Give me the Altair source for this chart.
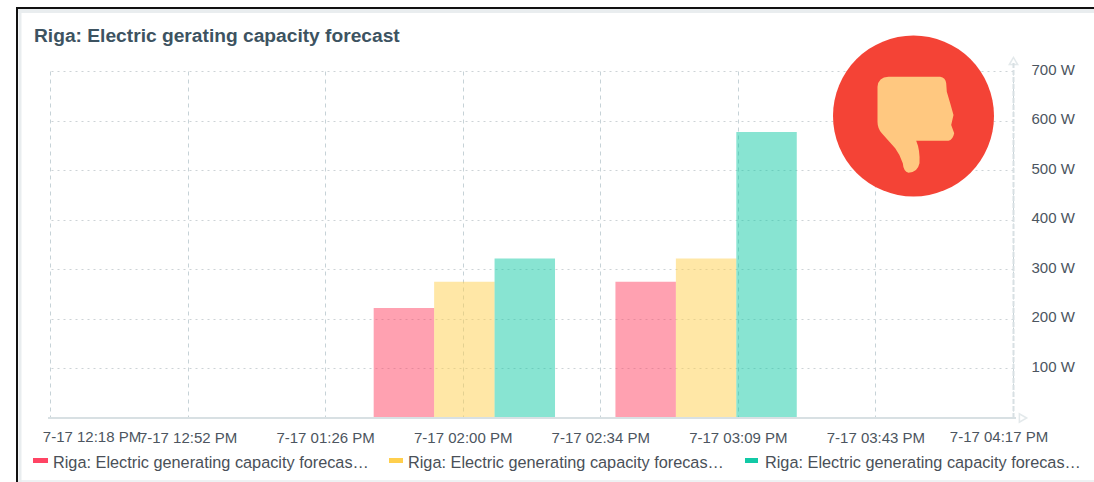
import altair as alt
import pandas as pd

DAY = "2023-07-17T"
bar_starts = ["13:38:40", "13:53:40", "14:08:40", "14:38:40", "14:53:40", "15:08:40"]
bar_ends = ["13:53:40", "14:08:40", "14:23:40", "14:53:40", "15:08:40", "15:23:40"]
bar_watts = [222, 275, 322, 275, 322, 577]
bar_series = ["a", "b", "c", "a", "b", "c"]
series_names = ["a", "b", "c"]
series_key = ["#ff4464", "#ffcf4d", "#12c9a6"]
legend_text = ["Riga: Electric generating capacity forecas\u2026"] * 3
tick_times = [
    "12:18:20", "12:52:29", "13:26:37", "14:00:46",
    "14:34:54", "15:09:03", "15:43:11", "16:17:20",
]
watt_ticks = [100, 200, 300, 400, 500, 600, 700]
title_text = "Riga: Electric gerating capacity forecast"

PLOT_W, PLOT_H = 963, 347
LEFT, TOP = 50, 71
FONT = "Liberation Sans"
GRID_V = "#c6d2d7"
GRID_H = "#cdd3d6"
AXIS_LINE = "#d8e0e3"
LABEL = "#4c5560"
TIME_FORMAT = "%-m-%-d %I:%M %p"

# Thumbs-down glyph, outlined in pixels around the middle of the badge.
THUMB = (
    "M-25,-39.3 L26.7,-39.3 Q32,-38.7 32.7,-32.7 L33.3,-24.3 L36.7,-12.7 L40,-1 "
    "L37.7,9 L40.7,17.3 Q39.3,24 35,24.7 L2.7,24.7 Q6.7,34 6,47.3 Q4,56.7 -5,56.7 "
    "Q-10,55.7 -10.7,47.3 Q-13.3,39 -18.3,32.3 L-31.7,17.3 Q-36,12.3 -36,5.7 "
    "L-36,-29.3 Q-35.3,-38.7 -25,-39.3 Z"
)

bars = pd.DataFrame({
    "start": [DAY + t for t in bar_starts],
    "end": [DAY + t for t in bar_ends],
    "watts": bar_watts,
    "series": bar_series,
})
ticks = pd.DataFrame({"time": [DAY + t for t in tick_times]})
one = pd.DataFrame({"k": [0]})

x_scale = alt.Scale(domain=[DAY + tick_times[0], DAY + tick_times[-1]], nice=False, padding=0)
y_scale = alt.Scale(domain=[0, 700], nice=False)


def px(v):
    return alt.value(v - LEFT)


def py(v):
    return alt.value(v - TOP)


bar_layer = alt.Chart(bars).mark_bar(opacity=0.5, orient="vertical").encode(
    x=alt.X(
        "start:T",
        scale=x_scale,
        title=None,
        axis=alt.Axis(
            values=[DAY + t for t in tick_times],
            format=TIME_FORMAT,
            labelExpr="datum.index == 0 || datum.index == 1 ? '' : datum.label",
            grid=True,
            gridColor=GRID_V,
            gridDash=[4, 4],
            ticks=False,
            domain=False,
            labelFont=FONT,
            labelFontSize=15,
            labelColor=LABEL,
            labelPadding=12,
            labelFlush=False,
            labelOverlap=False,
        ),
    ),
    x2="end:T",
    y=alt.Y(
        "watts:Q",
        scale=y_scale,
        title=None,
        axis=alt.Axis(
            values=watt_ticks,
            orient="right",
            format="d",
            labelExpr="datum.value + ' W'",
            grid=True,
            gridColor=GRID_H,
            gridDash=[2, 4],
            ticks=False,
            domain=False,
            labelFont=FONT,
            labelFontSize=15,
            labelColor=LABEL,
            labelPadding=18,
            labelOffset=-2,
        ),
    ),
    y2=alt.datum(0),
    color=alt.Color(
        "series:N",
        scale=alt.Scale(domain=series_names, range=series_key),
        legend=None,
    ),
)


# The outermost time labels are nudged inwards so they stay on the canvas.
def end_label(row, nudge):
    return alt.Chart(ticks.iloc[[row]]).mark_text(
        dx=nudge, font=FONT, fontSize=15, color=LABEL, baseline="top"
    ).encode(
        x=alt.X("time:T", scale=x_scale),
        y=py(430),
        text=alt.Text("time:T", format=TIME_FORMAT),
    )


x_line = alt.Chart(one).mark_rule(color=AXIS_LINE, strokeWidth=2).encode(
    x=px(48), x2=px(1016), y=py(418)
)
y_line = alt.Chart(one).mark_rule(color=AXIS_LINE, strokeWidth=2, strokeDash=[5, 2]).encode(
    x=px(1013.5), y=py(63), y2=py(418)
)
arrow_up = alt.Chart(one).mark_point(
    shape="triangle-up", filled=False, stroke=AXIS_LINE, size=70, strokeWidth=1.5
).encode(x=px(1013.5), y=py(61))
arrow_right = alt.Chart(one).mark_point(
    shape="triangle-right", filled=False, stroke=AXIS_LINE, size=70, strokeWidth=1.5
).encode(x=px(1023), y=py(418))

swatch_left = [33, 389, 745]
swatch_right = [48, 403, 758]
text_left = [53, 408, 765]
swatches = [
    alt.Chart(one).mark_rule(color=key, strokeWidth=5).encode(
        x=px(a), x2=px(b), y=py(460.5)
    )
    for key, a, b in zip(series_key, swatch_left, swatch_right)
]
legend_labels = [
    alt.Chart(one).mark_text(
        text=t, align="left", baseline="middle", font=FONT, fontSize=16.3, color="#4a5058"
    ).encode(x=px(at), y=py(462.5))
    for t, at in zip(legend_text, text_left)
]

badge = alt.Chart(one).mark_point(
    shape="circle", filled=True, fill="#f44336", stroke=None, opacity=1, size=25921
).encode(x=px(913.5), y=py(116))
thumb = alt.Chart(one).mark_point(
    shape=THUMB, filled=True, fill="#ffc880", stroke=None, opacity=1, size=4
).encode(x=px(913.5), y=py(116))

frame = [
    alt.Chart(one).mark_rule(color="#e9edef", strokeWidth=4).encode(
        x=px(18), x2=px(1094), y=py(11)
    ),
    alt.Chart(one).mark_rule(color="#e9edef", strokeWidth=3).encode(
        x=px(20), y=py(10), y2=py(482)
    ),
    alt.Chart(one).mark_rule(color="#e9edef", strokeWidth=1.5).encode(
        x=px(18), x2=px(1094), y=py(481)
    ),
    alt.Chart(one).mark_rule(color="#111111", strokeWidth=2).encode(
        x=px(16), x2=px(1094), y=py(8)
    ),
    alt.Chart(one).mark_rule(color="#111111", strokeWidth=2).encode(
        x=px(17), y=py(8), y2=py(482)
    ),
]
heading = alt.Chart(one).mark_text(
    text=title_text, align="left", baseline="middle", font=FONT, fontSize=19.2,
    fontWeight="bold", color="#3d5361",
).encode(x=px(34), y=py(36))

chart = alt.layer(
    bar_layer, end_label(0, 42), end_label(len(tick_times) - 1, -14),
    x_line, y_line, arrow_up, arrow_right,
    *swatches, *legend_labels, badge, thumb, *frame, heading,
).properties(
    width=PLOT_W,
    height=PLOT_H,
    autosize=alt.AutoSizeParams(type="none"),
    padding={"left": LEFT, "top": TOP, "right": 81, "bottom": 64},
    background="white",
).configure_view(stroke=None)

chart.save("out.html", embed_options={"renderer": "svg", "actions": False})
